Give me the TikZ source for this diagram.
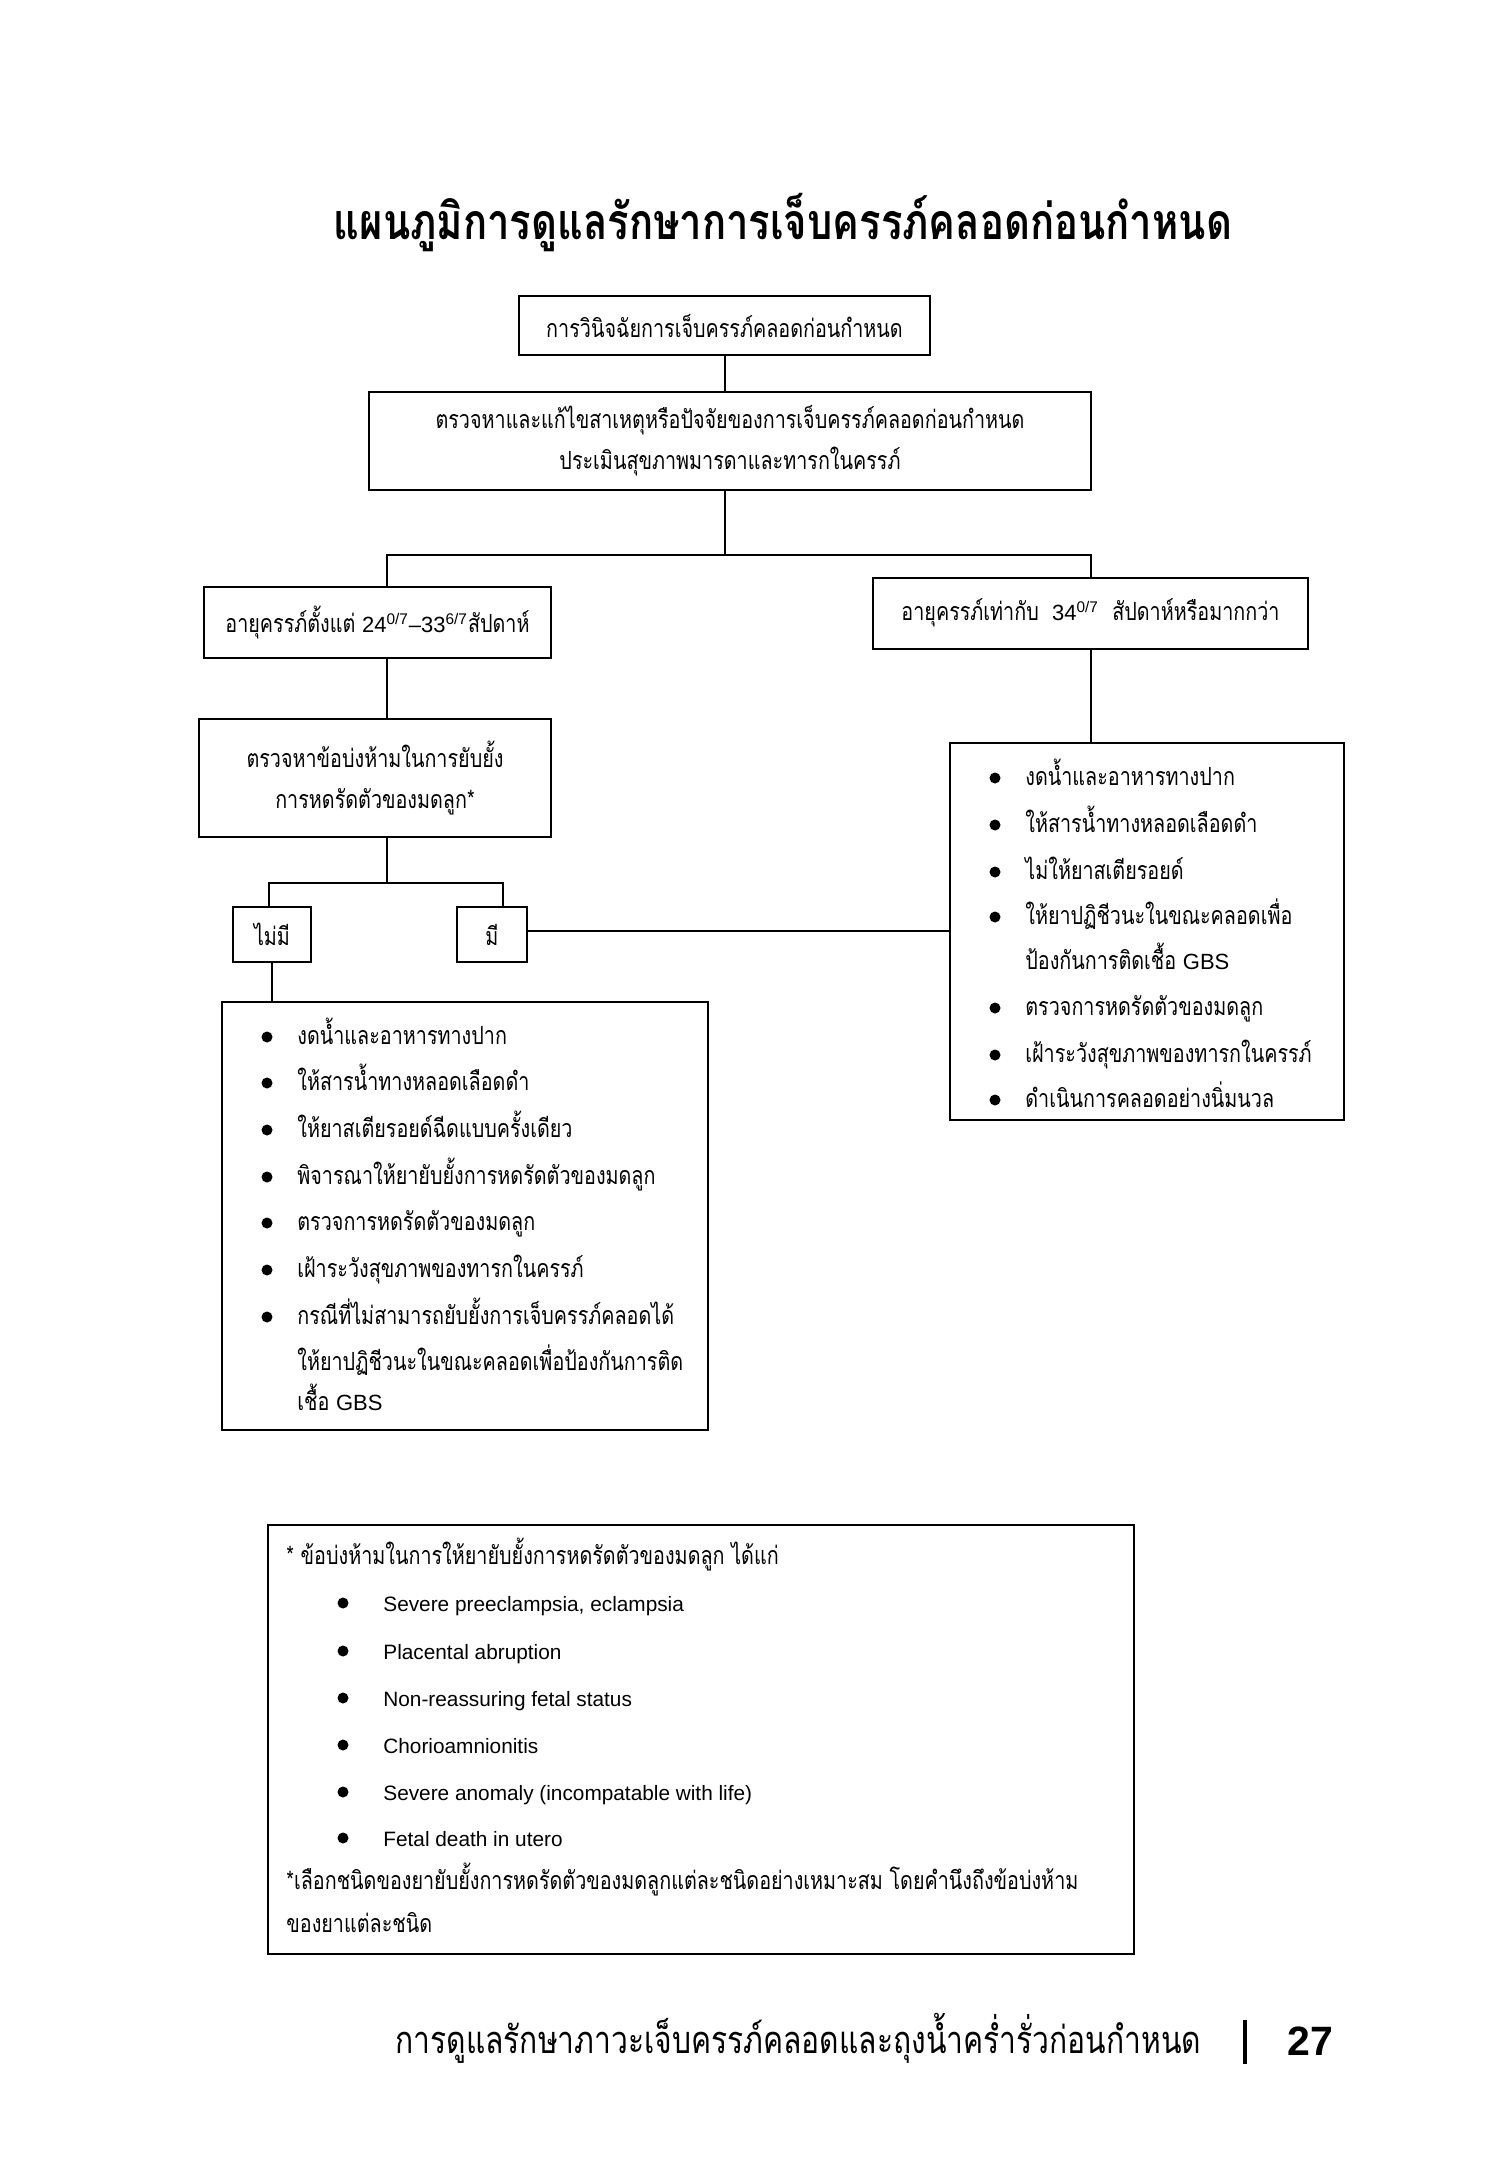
\documentclass[tikz,border=0pt]{standalone}
\usepackage{fontspec}
\setmainfont{Liberation Sans}
\newfontfamily\thai[Script=Thai,FakeStretch=0.79]{Loma}
\newfontfamily\thaihead[Script=Thai,FakeStretch=0.8]{Loma}
\newfontfamily\thaifoot[Script=Thai,FakeStretch=0.79]{Loma}
\newfontfamily\latfont{Liberation Sans}
\newcommand{\lat}[1]{{\latfont\fontsize{11}{13}\selectfont #1}}
\begin{document}
\begin{tikzpicture}[x=0.5pt,y=-0.5pt,
  box/.style={draw, line width=1pt, inner sep=0pt, align=center,
    font=\thai\fontsize{12.5}{20.5}\selectfont},
  frame/.style={draw, line width=1pt, inner sep=0pt},
  link/.style={line width=1pt},
  row/.style={anchor=base west, inner sep=0pt, font=\thai\fontsize{12.5}{14}\selectfont},
  note/.style={anchor=base west, inner sep=0pt, font=\thai\fontsize{12.5}{14}\selectfont},
  eng/.style={anchor=base west, inner sep=0pt, font=\latfont\fontsize{10.4}{12}\selectfont},
  dot/.style={circle, fill, inner sep=0pt, minimum size=5.5pt}]
\useasboundingbox (0,0) rectangle (1507,2182);

% heading
\node[anchor=base, inner sep=0pt, font=\thaihead\bfseries\fontsize{25}{29}\selectfont]
  (title) at (783,240) {แผนภูมิการดูแลรักษาการเจ็บครรภ์คลอดก่อนกำหนด};

% flow boxes
\node[box, minimum width=205.5pt, minimum height=29.5pt] (b1) at (724.5,326)
  {การวินิจฉัยการเจ็บครรภ์คลอดก่อนกำหนด};
\node[box, minimum width=361pt, minimum height=49pt] (b2) at (730,441)
  {ตรวจหาและแก้ไขสาเหตุหรือปัจจัยของการเจ็บครรภ์คลอดก่อนกำหนด\\
   ประเมินสุขภาพมารดาและทารกในครรภ์};
\node[box, minimum width=173.5pt, minimum height=35.5pt] (b3) at (377.5,622.5)
  {อายุครรภ์ตั้งแต่ \lat{24\textsuperscript{0/7}–33\textsuperscript{6/7}}สัปดาห์};
\node[box, minimum width=217.5pt, minimum height=35.5pt] (b4) at (1090.5,613)
  {อายุครรภ์เท่ากับ \ \lat{34\textsuperscript{0/7}}\ \ สัปดาห์หรือมากกว่า};
\node[box, minimum width=176pt, minimum height=59pt] (b5) at (375,778)
  {ตรวจหาข้อบ่งห้ามในการยับยั้ง\\การหดรัดตัวของมดลูก*};
\node[box, minimum width=39pt, minimum height=27.5pt] (b6) at (272,934.5) {ไม่มี};
\node[box, minimum width=35pt, minimum height=27.5pt] (b7) at (492,934.5) {มี};

% bullet boxes
\node[frame, minimum width=197pt, minimum height=188.5pt] (b8) at (1146.5,931.5) {};
\node[frame, minimum width=243pt, minimum height=214pt] (b9) at (465,1216) {};
\node[frame, minimum width=433pt, minimum height=214.5pt] (b10) at (701,1739.5) {};

% connectors
\coordinate (jl) at (387,555);
\coordinate (jr) at (1091,555);
\coordinate (kl) at (269,883);
\coordinate (kr) at (503,883);
\coordinate (m) at (0,931);
\draw[link] (b1.south) -- (b1.south |- b2.north);
\draw[link] (b2.south -| b1.south) -- (b1.south |- jl);
\draw[link] (jl |- b3.north) -- (jl) -- (jr) -- (jr |- b4.north);
\draw[link] (jl |- b3.south) -- (jl |- b5.north);
\draw[link] (jl |- b5.south) -- (jl |- kl);
\draw[link] (kl |- b6.north) -- (kl) -- (kr) -- (kr |- b7.north);
\draw[link] (b7.east |- m) -- (b8.west |- m);
\draw[link] (jr |- b4.south) -- (jr |- b8.north);
\draw[link] (b6.south) -- (b6.south |- b9.north);

% right-hand list
\foreach \y/\t [count=\i] in {785/งดน้ำและอาหารทางปาก,
    832/ให้สารน้ำทางหลอดเลือดดำ,
    879/ไม่ให้ยาสเตียรอยด์,
    924/ให้ยาปฏิชีวนะในขณะคลอดเพื่อ,
    969/ป้องกันการติดเชื้อ \lat{GBS},
    1015/ตรวจการหดรัดตัวของมดลูก,
    1062/เฝ้าระวังสุขภาพของทารกในครรภ์,
    1107/ดำเนินการคลอดอย่างนิ่มนวล}
  \node[row] (r\i) at (1025,\y) {\t};
\foreach \y [count=\i] in {778,825,872,917,1008,1055,1100}
  \node[dot] (rd\i) at (995,\y) {};

% left-hand list
\foreach \y/\t [count=\i] in {1044/งดน้ำและอาหารทางปาก,
    1090/ให้สารน้ำทางหลอดเลือดดำ,
    1137/ให้ยาสเตียรอยด์ฉีดแบบครั้งเดียว,
    1184/พิจารณาให้ยายับยั้งการหดรัดตัวของมดลูก,
    1230/ตรวจการหดรัดตัวของมดลูก,
    1277/เฝ้าระวังสุขภาพของทารกในครรภ์,
    1324/กรณีที่ไม่สามารถยับยั้งการเจ็บครรภ์คลอดได้,
    1370/ให้ยาปฏิชีวนะในขณะคลอดเพื่อป้องกันการติด,
    1410/เชื้อ \lat{GBS}}
  \node[row] (l\i) at (297,\y) {\t};
\foreach \y [count=\i] in {1037,1083,1130,1177,1223,1270,1317}
  \node[dot] (ld\i) at (267,\y) {};

% footnote box
\node[note] (nh) at (286,1564) {* ข้อบ่งห้ามในการให้ยายับยั้งการหดรัดตัวของมดลูก ได้แก่};
\foreach \y/\t [count=\i] in {1611/{Severe preeclampsia, eclampsia},
    1659/Placental abruption,
    1706/Non-reassuring fetal status,
    1753/Chorioamnionitis,
    1800/Severe anomaly (incompatable with life),
    1846/Fetal death in utero}
  \node[eng] (n\i) at (383,\y) {\t};
\foreach \y [count=\i] in {1603,1651,1698,1745,1792,1838}
  \node[dot] (nd\i) at (343,\y) {};
\node[note] (nt1) at (286,1889) {*เลือกชนิดของยายับยั้งการหดรัดตัวของมดลูกแต่ละชนิดอย่างเหมาะสม โดยคำนึงถึงข้อบ่งห้าม};
\node[note] (nt2) at (286,1932) {ของยาแต่ละชนิด};

% page footer
\node[anchor=base west, inner sep=0pt, font=\thaifoot\fontsize{19}{22}\selectfont]
  (foot) at (395,2053) {การดูแลรักษาภาวะเจ็บครรภ์คลอดและถุงน้ำคร่ำรั่วก่อนกำหนด};
\node[anchor=base west, inner sep=0pt, font=\latfont\bfseries\fontsize{20.5}{24}\selectfont]
  (page) at (1287,2055) {27};
\draw[line width=2pt] (1245,2020) -- (1245,2064);
\end{tikzpicture}
\end{document}
